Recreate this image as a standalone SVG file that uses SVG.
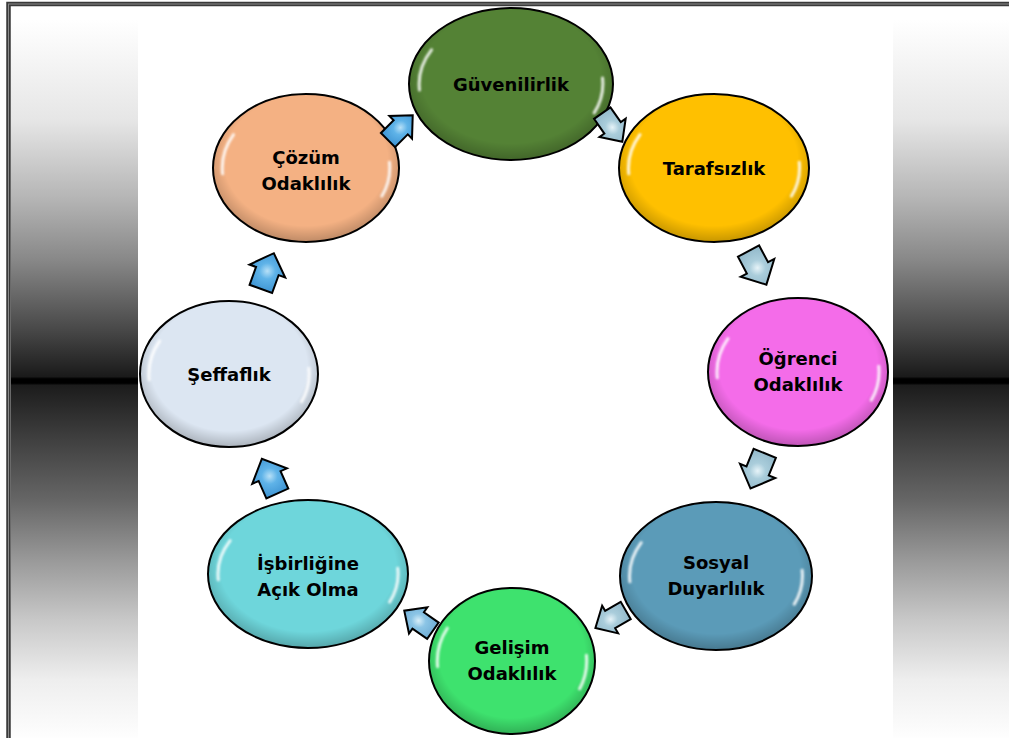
<svg xmlns="http://www.w3.org/2000/svg" width="1009" height="738" viewBox="0 0 1009 738">
<defs>
<style>
.lbl{font-family:"DejaVu Sans","Liberation Sans",sans-serif;font-weight:bold;font-size:18px;fill:#000;text-anchor:middle}
.node{stroke:#000;stroke-width:2}
.hl{fill:none;stroke:#fff;stroke-width:3;stroke-linecap:round;opacity:.85;filter:url(#blur)}
.arr{stroke:#000;stroke-width:2;stroke-linejoin:miter}
</style>
<filter id="blur" x="-20%" y="-20%" width="140%" height="140%"><feGaussianBlur stdDeviation="0.9"/></filter>
<linearGradient id="side" gradientUnits="userSpaceOnUse" x1="0" y1="20" x2="0" y2="742">
<stop offset="0" stop-color="#ffffff"/>
<stop offset="0.1385" stop-color="#e6e6e6"/>
<stop offset="0.249" stop-color="#b4b4b4"/>
<stop offset="0.332" stop-color="#888888"/>
<stop offset="0.429" stop-color="#484848"/>
<stop offset="0.494" stop-color="#1a1a1a"/>
<stop offset="0.497" stop-color="#000000"/>
<stop offset="0.503" stop-color="#000000"/>
<stop offset="0.506" stop-color="#1c1c1c"/>
<stop offset="0.582" stop-color="#404040"/>
<stop offset="0.665" stop-color="#666666"/>
<stop offset="0.748" stop-color="#999999"/>
<stop offset="0.831" stop-color="#c8c8c8"/>
<stop offset="0.914" stop-color="#eeeeee"/>
<stop offset="1" stop-color="#ffffff"/>
</linearGradient>
<radialGradient id="shade" cx="0.5" cy="0.45" r="0.55">
<stop offset="0" stop-color="#000" stop-opacity="0"/>
<stop offset="0.8" stop-color="#000" stop-opacity="0"/>
<stop offset="1" stop-color="#000" stop-opacity="0.22"/>
</radialGradient>
<radialGradient id="aBlue" cx="0.5" cy="0.5" r="0.6">
<stop offset="0" stop-color="#b7e0f7"/>
<stop offset="0.35" stop-color="#5fb3e8"/>
<stop offset="1" stop-color="#3a90d0"/>
</radialGradient>
<radialGradient id="aMid" cx="0.5" cy="0.5" r="0.6">
<stop offset="0" stop-color="#d8eef9"/>
<stop offset="0.35" stop-color="#8cc5e6"/>
<stop offset="1" stop-color="#6aa9d2"/>
</radialGradient>
<radialGradient id="aPale" cx="0.5" cy="0.5" r="0.6">
<stop offset="0" stop-color="#e6f3f8"/>
<stop offset="0.35" stop-color="#aacddb"/>
<stop offset="1" stop-color="#8fb6c8"/>
</radialGradient>
<path id="arrow" d="M-18,-12 L1,-12 L1,-19 L20,0 L1,19 L1,12 L-18,12 Z"/>
<path id="arrowS" d="M-17,-10 L1,-10 L1,-16 L18,0 L1,16 L1,10 L-17,10 Z"/>
</defs>

<rect x="0" y="0" width="1009" height="738" fill="#fff"/>
<g id="background">
<rect x="11" y="20" width="127" height="718" fill="url(#side)"/>
<rect x="893" y="20" width="116" height="718" fill="url(#side)"/>
<rect x="8.5" y="4" width="1010" height="800" fill="none" stroke="#3a3a3a" stroke-width="4.5"/>
<rect x="8.5" y="4" width="1010" height="800" fill="none" stroke="#8a8a8a" stroke-width="1"/>
</g>

<g id="n-guvenilirlik">
<ellipse class="node" cx="511" cy="84" rx="102" ry="76" fill="#548235"/>
<ellipse cx="511" cy="84" rx="102" ry="76" fill="url(#shade)"/>
<path class="hl" d="M419.5,90 A91.8,68.4 0 0 1 431.5,49.8 M602.5,78 A91.8,68.4 0 0 1 594.2,112.9"/>
<text class="lbl" x="511" y="90.5">Güvenilirlik</text>
</g>

<g id="n-tarafsizlik">
<ellipse class="node" cx="714" cy="168" rx="95" ry="74" fill="#ffc000"/>
<ellipse cx="714" cy="168" rx="95" ry="74" fill="url(#shade)"/>
<path class="hl" d="M628.8,173.8 A85.5,66.6 0 0 1 640,134.7 M799.2,162.2 A85.5,66.6 0 0 1 791.5,196.1"/>
<text class="lbl" x="714" y="174.5">Tarafsızlık</text>
</g>

<g id="n-ogrenci">
<ellipse class="node" cx="798" cy="372" rx="90" ry="74" fill="#f46ce9"/>
<ellipse cx="798" cy="372" rx="90" ry="74" fill="url(#shade)"/>
<path class="hl" d="M717.3,377.8 A81,66.6 0 0 1 727.9,338.7 M878.7,366.2 A81,66.6 0 0 1 871.4,400.1"/>
<text class="lbl" x="798" y="364.5">Öğrenci</text>
<text class="lbl" x="798" y="390.5">Odaklılık</text>
</g>

<g id="n-sosyal">
<ellipse class="node" cx="716" cy="576" rx="96" ry="74" fill="#5b9bb8"/>
<ellipse cx="716" cy="576" rx="96" ry="74" fill="url(#shade)"/>
<path class="hl" d="M629.9,581.8 A86.4,66.6 0 0 1 641.2,542.7 M802.1,570.2 A86.4,66.6 0 0 1 794.3,604.1"/>
<text class="lbl" x="716" y="568.5">Sosyal</text>
<text class="lbl" x="716" y="594.5">Duyarlılık</text>
</g>

<g id="n-gelisim">
<ellipse class="node" cx="512" cy="661" rx="83" ry="73" fill="#3ee26e"/>
<ellipse cx="512" cy="661" rx="83" ry="73" fill="url(#shade)"/>
<path class="hl" d="M437.6,666.7 A74.7,65.7 0 0 1 447.3,628.2 M586.4,655.3 A74.7,65.7 0 0 1 579.7,688.8"/>
<text class="lbl" x="512" y="653.5">Gelişim</text>
<text class="lbl" x="512" y="679.5">Odaklılık</text>
</g>

<g id="n-isbirligi">
<ellipse class="node" cx="308" cy="574" rx="100" ry="74" fill="#6ed6db"/>
<ellipse cx="308" cy="574" rx="100" ry="74" fill="url(#shade)"/>
<path class="hl" d="M218.3,579.8 A90,66.6 0 0 1 230.1,540.7 M397.7,568.2 A90,66.6 0 0 1 389.6,602.1"/>
<text class="lbl" x="308" y="569.5">İşbirliğine</text>
<text class="lbl" x="308" y="595.5">Açık Olma</text>
</g>

<g id="n-seffaflik">
<ellipse class="node" cx="229" cy="374" rx="89" ry="73" fill="#dce6f2"/>
<ellipse cx="229" cy="374" rx="89" ry="73" fill="url(#shade)"/>
<path class="hl" d="M149.2,379.7 A80.1,65.7 0 0 1 159.6,341.2 M308.8,368.3 A80.1,65.7 0 0 1 301.6,401.8"/>
<text class="lbl" x="229" y="380.5">Şeffaflık</text>
</g>

<g id="n-cozum">
<ellipse class="node" cx="306" cy="168" rx="93" ry="74" fill="#f4b183"/>
<ellipse cx="306" cy="168" rx="93" ry="74" fill="url(#shade)"/>
<path class="hl" d="M222.6,173.8 A83.7,66.6 0 0 1 233.5,134.7 M389.4,162.2 A83.7,66.6 0 0 1 381.9,196.1"/>
<text class="lbl" x="306" y="163.5">Çözüm</text>
<text class="lbl" x="306" y="189.5">Odaklılık</text>
</g>

<g id="connectors">
<use href="#arrowS" class="arr" fill="url(#aBlue)" transform="translate(400,128) rotate(-45)"/>
<use href="#arrowS" class="arr" fill="url(#aPale)" transform="translate(612,127) rotate(55)"/>
<use href="#arrow" class="arr" fill="url(#aPale)" transform="translate(757,267) rotate(62)"/>
<use href="#arrow" class="arr" fill="url(#aPale)" transform="translate(758,470) rotate(112)"/>
<use href="#arrowS" class="arr" fill="url(#aPale)" transform="translate(611,619) rotate(150)"/>
<use href="#arrowS" class="arr" fill="url(#aMid)" transform="translate(419,621) rotate(215)"/>
<use href="#arrow" class="arr" fill="url(#aBlue)" transform="translate(270,477) rotate(246)"/>
<use href="#arrow" class="arr" fill="url(#aBlue)" transform="translate(267,272) rotate(-70)"/>
</g>
</svg>
